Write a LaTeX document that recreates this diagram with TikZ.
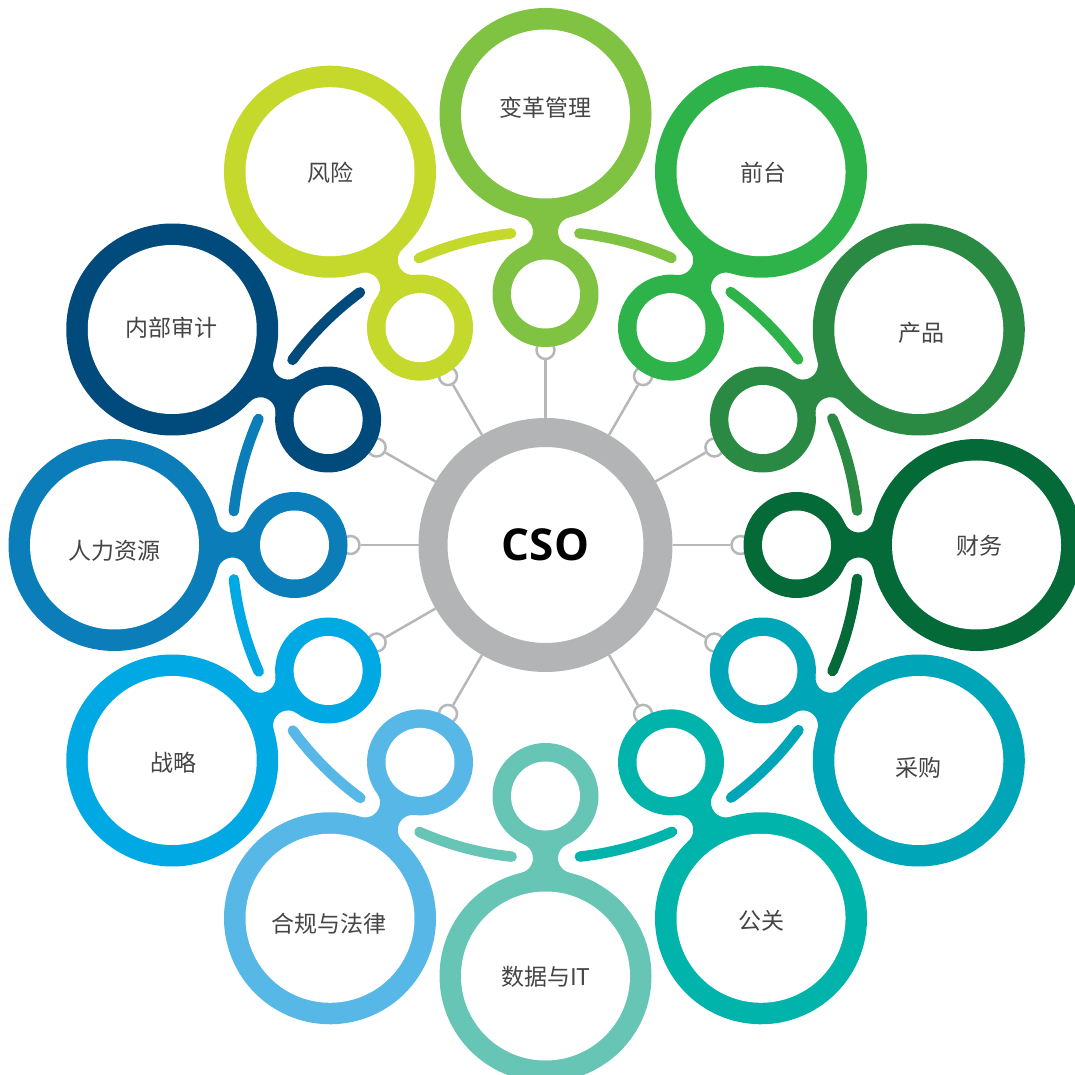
\documentclass[tikz,border=0pt]{standalone}
\usepackage{fontspec}
\usetikzlibrary{calc}
\newfontfamily\cjkfont{Noto Sans CJK SC}
\newfontfamily\csofont{Open Sans}
\definecolor{cBian}{HTML}{80C342}
\definecolor{cFeng}{HTML}{C5D92D}
\definecolor{cQian}{HTML}{2DB34A}
\definecolor{cChan}{HTML}{2A8A43}
\definecolor{cCaiw}{HTML}{046A38}
\definecolor{cCaig}{HTML}{00A5B8}
\definecolor{cGong}{HTML}{00B4AC}
\definecolor{cShuj}{HTML}{66C5B4}
\definecolor{cHegu}{HTML}{57B7E7}
\definecolor{cZhan}{HTML}{00A9E4}
\definecolor{cRenl}{HTML}{0B7DB9}
\definecolor{cNeib}{HTML}{004A7C}
\definecolor{csogray}{HTML}{B2B4B5}
\definecolor{conngray}{HTML}{B5B7B8}
\definecolor{labelgray}{HTML}{454545}
\begin{document}
\begin{tikzpicture}[x=1pt,y=1pt,
  csoring/.style={circle, draw=csogray, line width=29pt, fill=white,
    minimum size=225pt, inner sep=0pt,
    font=\csofont\bfseries\fontsize{44}{44}\selectfont, text=black},
  opencirc/.style={circle, draw=conngray, line width=2.5pt, fill=white,
    minimum size=18pt, inner sep=0pt},
  conn/.style={draw=conngray, line width=2.5pt},
  branch/.style={line width=10.5pt, line cap=round},
  lbl/.style={font=\cjkfont\fontsize{23}{23}\selectfont, text=labelgray, inner sep=0pt}
]
\useasboundingbox (0,0) rectangle (1075,1074);
\clip (0,0) rectangle (1075,1074);
\coordinate (C) at (545.5,529);

% centre node
\node[csoring] (cso) at (C) {CSO};

% connectors with open end circles
\foreach \a/\n in {90/a,120/b,150/c,180/d,210/e,240/f,300/h,330/i,0/j,30/k,60/l}{
  \node[opencirc] (o\n) at ($(C)+(\a:195)$) {};
  \draw[conn] (cso) -- (o\n);
}

% rings with necks
\foreach \a/\c in {90/cBian,120/cFeng,150/cNeib,180/cRenl,210/cZhan,240/cHegu,
                   270/cShuj,300/cGong,330/cCaig,0/cCaiw,30/cChan,60/cQian}{
  \begin{scope}[shift={(C)}, rotate=\a]
    \fill[\c] (251,0) circle[radius=53];
    \fill[\c] (431,0) circle[radius=106];
    \fill[\c] (299.46,21.47) arc[start angle=203.9, end angle=346.9, radius=15]
       -- (327.78,-24.13) arc[start angle=13.1, end angle=156.1, radius=15] -- cycle;
    \fill[white] (251,0) circle[radius=34.5];
    \fill[white] (431,0) circle[radius=84.5];
    \draw[branch, \c] (-23.7:313.5) arc[start angle=-23.7, end angle=-6.2, radius=313.5];
  \end{scope}
}

% labels
\node[lbl] (t1)  at (545,966) {变革管理};
\node[lbl] (t2)  at (330,901) {风险};
\node[lbl] (t3)  at (763,901) {前台};
\node[lbl] (t4)  at (921,741) {产品};
\node[lbl] (t5)  at (171,746) {内部审计};
\node[lbl] (t6)  at (114,523) {人力资源};
\node[lbl] (t7)  at (979,528) {财务};
\node[lbl] (t8)  at (173,311) {战略};
\node[lbl] (t9)  at (918,306) {采购};
\node[lbl] (t10) at (329,150) {合规与法律};
\node[lbl] (t11) at (761,153) {公关};
\node[lbl] (t12) at (546,97)  {数据与IT};
\end{tikzpicture}
\end{document}
